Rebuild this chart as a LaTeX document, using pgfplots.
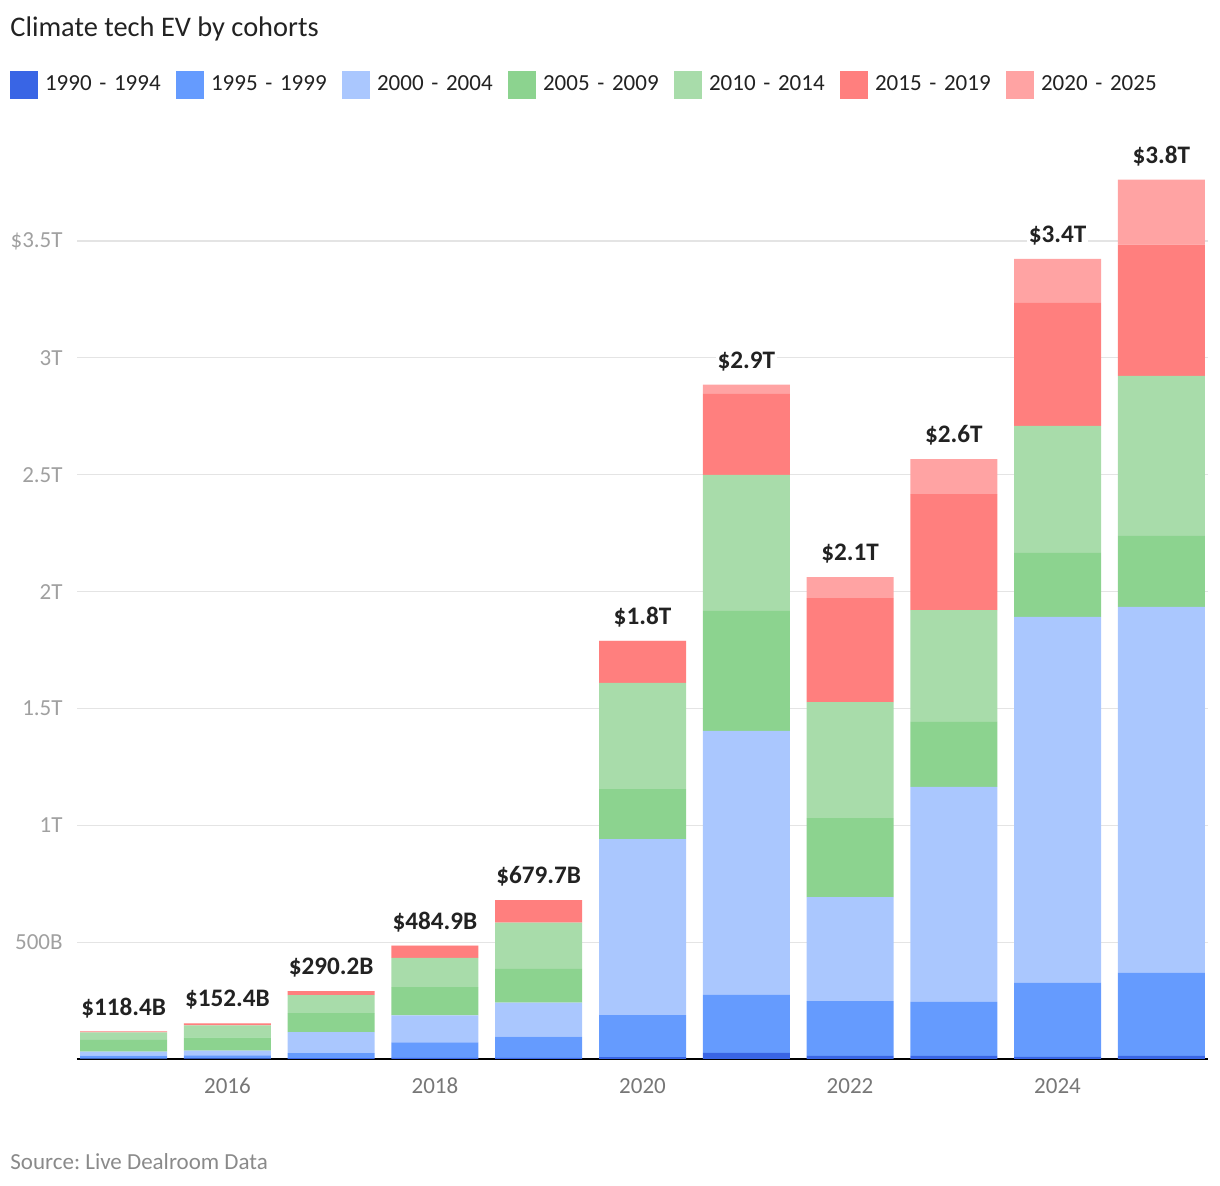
\documentclass[border=0pt]{standalone}
\usepackage{fontspec}
\setmainfont{Carlito}
\usepackage{pgfplots}
\usepackage{pgfplotstable}
\pgfplotsset{compat=1.18}
\frenchspacing

\definecolor{c1}{HTML}{3965E5}
\definecolor{c2}{HTML}{659BFE}
\definecolor{c3}{HTML}{AAC7FE}
\definecolor{c4}{HTML}{8CD38F}
\definecolor{c5}{HTML}{A8DCAA}
\definecolor{c6}{HTML}{FF7F7E}
\definecolor{c7}{HTML}{FFA3A3}
\definecolor{txt}{HTML}{222222}
\definecolor{ytk}{HTML}{A0A0A0}
\definecolor{xtk}{HTML}{777777}
\definecolor{src}{HTML}{8A8A8A}
\definecolor{gridc}{HTML}{E4E4E4}

% values in billions of dollars
\pgfplotstableread{
year db   b     lb    g    lg   r     p   zero label
2015 2    12    17    51   32   4.4   0   0    118.4B
2016 3    12    21    56   52   8.4   0   0    152.4B
2017 4.2  21    90    81   77   17    0   0    290.2B
2018 5    66    116   120  126  51.9  0   0    484.9B
2019 5    90.7  145   145  198  96    0   0    679.7B
2020 8    180   753   214  454  180   0   0    1.8T
2021 26   248   1130  513  582  347   39  0    2.9T
2022 13   235   445   338  496  445   90  0    2.1T
2023 13   231   920   278  479  496   150 0    2.6T
2024 9    317   1566  274  543  526   188 0    3.4T
2025 13   355   1566  304  685  561   278 0    3.8T
}\evtable

\begin{document}
\begin{tikzpicture}
\path[use as bounding box] (0pt,0pt) rectangle (610pt,593pt);
\node[anchor=base west, inner sep=0pt, text=txt, font=\fontsize{14.2}{17}\selectfont]
  at (5pt,574.5pt) {Climate tech EV by cohorts};
\node[anchor=base west, inner sep=0pt, text=src, font=\fontsize{11.5}{13}\selectfont]
  at (5pt,8pt) {Source: Live Dealroom Data};
\begin{axis}[
    at={(38.5pt,63.5pt)}, anchor=south west,
    scale only axis,
    width=565.5pt, height=444.06pt,
    ybar stacked, bar width=43.5pt,
    stacked ignores zero=false,
    xmin=2014.55, xmax=2025.45,
    ymin=0, ymax=3800,
    enlargelimits=false,
    clip=false,
    axis x line*=bottom, axis y line*=left,
    x axis line style={black, line width=1pt},
    y axis line style={draw=none},
    tick style={draw=none},
    major tick length=0pt,
    xtick={2016,2018,2020,2022,2024},
    xticklabels={2016,2018,2020,2022,2024},
    xticklabel style={anchor=base, yshift=-17.5pt, text=xtk, font=\fontsize{11.5}{13}\selectfont},
    ytick={500,1000,1500,2000,2500,3000,3500},
    yticklabels={500B,1T,1.5T,2T,2.5T,3T,\$3.5T},
    yticklabel style={anchor=east, inner sep=0pt, xshift=-7pt, text=ytk, font=\fontsize{11.5}{13}\selectfont},
    ymajorgrids=true,
    grid style={gridc, line width=0.6pt},
    legend style={at={(axis description cs:-0.0592,1.1125)}, anchor=north west,
        draw=none, fill=none, inner sep=0pt, outer sep=0pt,
        font=\fontsize{11.5}{14}\selectfont,
        nodes={inner sep=0pt, text width=58pt, align=left, text=txt},
        /tikz/every odd column/.append style={column sep=3.5pt},
        /tikz/every even column/.append style={column sep=7.5pt}},
    legend columns=-1,
    legend image code/.code={\fill[#1] (0pt,-7pt) rectangle (14pt,7pt);},
]
\addplot[fill=c1, draw=none] table[x=year, y=db] {\evtable};
\addplot[fill=c2, draw=none] table[x=year, y=b] {\evtable};
\addplot[fill=c3, draw=none] table[x=year, y=lb] {\evtable};
\addplot[fill=c4, draw=none] table[x=year, y=g] {\evtable};
\addplot[fill=c5, draw=none] table[x=year, y=lg] {\evtable};
\addplot[fill=c6, draw=none] table[x=year, y=r] {\evtable};
\addplot[fill=c7, draw=none] table[x=year, y=p] {\evtable};
\addplot[draw=none, fill=none,
    nodes near coords={\$\pgfplotspointmeta}, point meta=explicit symbolic,
    every node near coord/.append style={font=\bfseries\fontsize{12.6}{14}\selectfont,
        text=txt, fill=white, inner sep=1pt, yshift=11.8pt}]
    table[x=year, y=zero, meta=label] {\evtable};
\legend{1990 - 1994, 1995 - 1999, 2000 - 2004, 2005 - 2009, 2010 - 2014, 2015 - 2019, 2020 - 2025}
\end{axis}
\end{tikzpicture}
\end{document}
